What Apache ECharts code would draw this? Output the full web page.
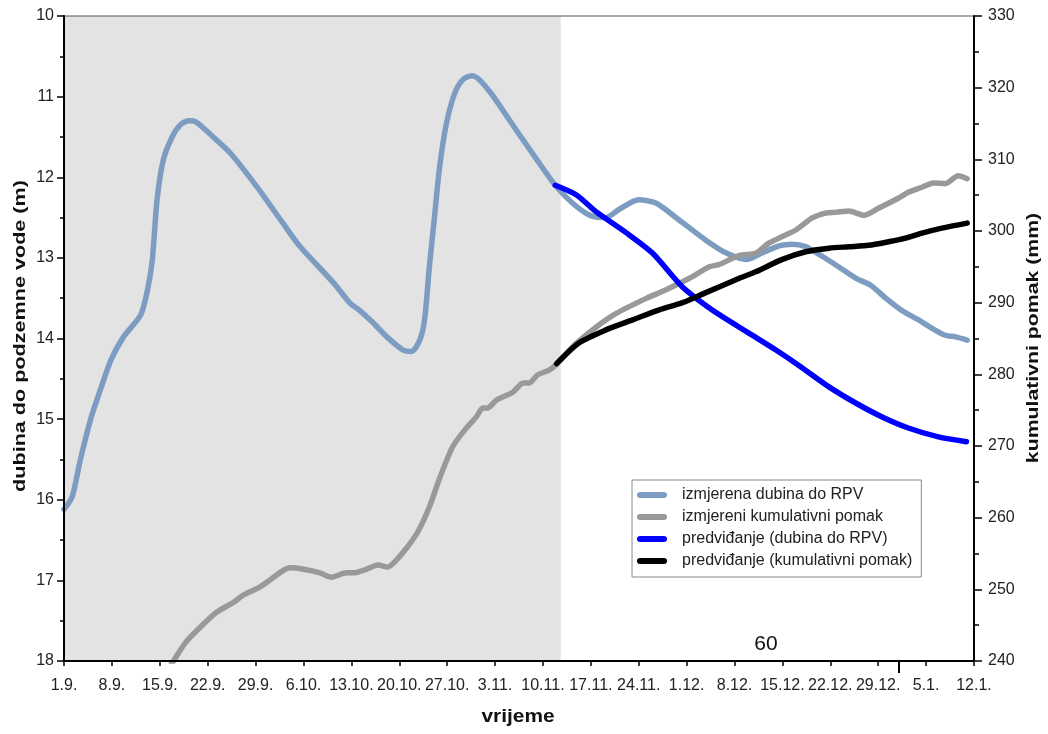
<!DOCTYPE html>
<html>
<head>
<meta charset="utf-8">
<script src="https://cdn.jsdelivr.net/npm/echarts@6/dist/echarts.min.js"></script>
<style>
html,body{margin:0;padding:0;background:#fff;}
#c{width:1048px;height:734px;}
</style>
</head>
<body>
<div id="c"></div>
<script>
// x values are days since 1.9.
var tickLabels = ['1.9.','8.9.','15.9.','22.9.','29.9.','6.10.','13.10.','20.10.','27.10.','3.11.','10.11.','17.11.','24.11.','1.12.','8.12.','15.12.','22.12.','29.12.','5.1.','12.1.'];
var shadeEndDay = 72.6;
var yearTickDay = 122;
var leftTitle = 'dubina do podzemne vode (m)';
var rightTitle = 'kumulativni pomak (mm)';
var xTitle = 'vrijeme';
var noteText = '60';

var measDepth = [[0,16.12],[1.2,15.96],[2.4,15.5],[3.9,15.0],[5.3,14.64],[6.9,14.26],[8.7,13.98],[11.2,13.71],[12.2,13.4],[12.9,13.03],[13.6,12.28],[14.5,11.79],[15.8,11.5],[17,11.35],[18.2,11.3],[19.2,11.31],[21.8,11.5],[24.3,11.7],[28.2,12.12],[32,12.57],[34.5,12.86],[39.4,13.31],[41.8,13.56],[43.2,13.65],[45,13.79],[47.2,13.98],[49.5,14.14],[50.8,14.16],[52,14.02],[52.7,13.77],[53.4,13.11],[54.2,12.45],[54.9,11.87],[55.9,11.33],[57.1,10.96],[58.3,10.79],[59.6,10.74],[60.7,10.79],[62.6,10.98],[65.1,11.29],[66.8,11.5],[69.5,11.83],[71.8,12.1],[74.3,12.32],[76.8,12.47],[79.2,12.5],[81.1,12.4],[84,12.28],[86.5,12.32],[89.9,12.53],[93.8,12.78],[96.8,12.94],[99.8,13.02],[102,12.94],[104.5,12.85],[106.4,12.83],[108.4,12.86],[110.8,12.98],[113.2,13.11],[115.7,13.25],[117.9,13.34],[120.1,13.5],[122.4,13.65],[124.9,13.77],[126.8,13.87],[128.8,13.96],[130.3,13.98],[132,14.02]];

var measCum = [[15.5,239.3],[16,240],[17.7,242.5],[19.9,244.7],[22.3,246.8],[24.8,248.2],[26.2,249.2],[28.6,250.3],[30.1,251.3],[32,252.6],[33,253],[35,252.8],[37.4,252.3],[39.1,251.7],[41.3,252.3],[42.3,252.3],[44.2,252.8],[45.9,253.4],[47.3,253.1],[48.3,253.8],[50.1,255.8],[51.7,258],[53.4,261.5],[54.9,265.5],[56.8,269.9],[58.8,272.5],[60.3,274.1],[61.2,275.3],[61.9,275.3],[63.2,276.4],[65.6,277.5],[67.1,278.8],[68,278.8],[69.2,279.9],[70.9,280.6],[72,281.4],[74.3,283.8],[77.8,286.6],[80.7,288.5],[85.1,290.6],[88,291.8],[91.4,293.4],[94.3,295],[95.7,295.3],[98.7,296.6],[101.1,296.9],[103,298.3],[104.9,299.2],[106.9,300.1],[109.3,301.8],[111.3,302.5],[112.8,302.6],[114.7,302.8],[116.9,302.2],[119.1,303.2],[122,304.6],[123.4,305.4],[125.4,306.1],[127.1,306.7],[128.8,306.6],[130.7,307.7],[132,307.3]];

var predDepth = [[71.8,12.1],[74.9,12.22],[77.8,12.43],[82.2,12.69],[86,12.94],[90.4,13.36],[94.8,13.65],[98.7,13.86],[101,13.98],[104,14.14],[107.5,14.34],[111.8,14.6],[115.7,14.8],[119.5,14.97],[123.4,15.11],[127.8,15.22],[131.9,15.28]];

var predCum = [[72,281.5],[75.3,284.4],[79.2,286.2],[83.1,287.6],[87,289],[90.4,290],[93.8,291.4],[98.7,293.4],[101.1,294.3],[104.9,296],[108.4,297.1],[111.8,297.6],[114.7,297.8],[117.6,298],[120.5,298.5],[123,299],[125.4,299.7],[128.3,300.4],[132,301.1]];

var seriesNames = ['izmjerena dubina do RPV','izmjereni kumulativni pomak','predviđanje (dubina do RPV)','predviđanje (kumulativni pomak)'];
var seriesColors = ['#7c9dc1','#999999','#0000ff','#000000'];

var FONT = 'Liberation Sans, Arial, sans-serif';
var chart = echarts.init(document.getElementById('c'), null, {renderer:'canvas'});

function lineSeries(i, data, yIdx){
  return {
    name: seriesNames[i], type:'line', data:data, xAxisIndex:0, yAxisIndex:yIdx,
    symbol:'none', smooth:0.25, clip:true, z: 3+i,
    lineStyle:{color:seriesColors[i], width:5.5, cap:'round', join:'round'},
    itemStyle:{color:seriesColors[i]}
  };
}

var s0 = lineSeries(0, measDepth, 0);
s0.markArea = {silent:true, z:1, itemStyle:{color:'#e3e3e3'}, data:[[{xAxis:0},{xAxis:shadeEndDay}]]};

var pill = 'path://M3,0 L27,0 A3,3 0 0 1 27,6 L3,6 A3,3 0 0 1 3,0 Z';

chart.setOption({
  animation:false,
  backgroundColor:'#fff',
  textStyle:{fontFamily:FONT},
  grid:{left:64, right:74, top:16, bottom:73, show:true, z:10, borderColor:'#555', borderWidth:1, backgroundColor:'transparent'},
  legend:{
    orient:'vertical', left:632, top:480,
    data:seriesNames.map(function(n){return {name:n, icon:pill};}),
    itemWidth:30, itemHeight:6, itemGap:6,
    padding:[7,9,8,5],
    borderColor:'#888', borderWidth:1, backgroundColor:'#fff',
    textStyle:{fontFamily:FONT, fontSize:16, color:'#222', lineHeight:16, padding:[0,0,0,10]}
  },
  xAxis:[{
    type:'value', min:0, max:133, interval:7, position:'bottom', z:10,
    axisLine:{show:true, onZero:false, lineStyle:{color:'#000', width:2}},
    axisTick:{show:true, inside:false, length:5, lineStyle:{color:'#000', width:1.5}},
    axisLabel:{fontFamily:FONT, fontSize:16, color:'#222', margin:17,
      formatter:function(v){ var k=Math.round(v/7); return tickLabels[k]||''; }},
    splitLine:{show:false}
  },{
    type:'value', min:0, max:133, position:'bottom', z:10,
    axisLine:{show:false, onZero:false},
    axisTick:{show:true, inside:false, length:12, customValues:[yearTickDay], lineStyle:{color:'#000', width:2}},
    axisLabel:{show:false},
    splitLine:{show:false}
  }],
  yAxis:[{
    type:'value', inverse:true, min:10, max:18, interval:1, position:'left', z:10,
    axisLine:{show:true, onZero:false, lineStyle:{color:'#000', width:2}},
    axisTick:{show:true, inside:false, length:7, lineStyle:{color:'#000', width:1.5}},
    minorTick:{show:true, splitNumber:2, length:4, lineStyle:{color:'#000', width:1.5}},
    axisLabel:{fontFamily:FONT, fontSize:16, color:'#222', margin:10},
    splitLine:{show:false}, minorSplitLine:{show:false}
  },{
    type:'value', min:240, max:330, interval:10, position:'right', z:10,
    axisLine:{show:true, onZero:false, lineStyle:{color:'#000', width:2}},
    axisTick:{show:true, inside:false, length:8, lineStyle:{color:'#000', width:1.5}},
    minorTick:{show:true, splitNumber:2, length:5, lineStyle:{color:'#000', width:1.5}},
    axisLabel:{fontFamily:FONT, fontSize:16, color:'#222', margin:14},
    splitLine:{show:false}, minorSplitLine:{show:false}
  }],
  graphic:[{
    type:'text', x:20, y:336, rotation:Math.PI/2, scaleX:1.27, z:20,
    style:{text:leftTitle, font:'bold 17px ' + FONT, fill:'#111', align:'center', verticalAlign:'middle'}
  },{
    type:'text', x:1033, y:338, rotation:Math.PI/2, scaleX:1.25, z:20,
    style:{text:rightTitle, font:'bold 17px ' + FONT, fill:'#111', align:'center', verticalAlign:'middle'}
  },{
    type:'text', x:518, y:717, scaleX:1.16, z:20,
    style:{text:xTitle, font:'bold 18px ' + FONT, fill:'#111', align:'center', verticalAlign:'middle'}
  },{
    type:'text', x:766, y:644, z:20,
    style:{text:noteText, font:'21px ' + FONT, fill:'#111', align:'center', verticalAlign:'middle'}
  }],
  series:[
    s0,
    lineSeries(1, measCum, 1),
    lineSeries(2, predDepth, 0),
    lineSeries(3, predCum, 1)
  ]
});
</script>
</body>
</html>
